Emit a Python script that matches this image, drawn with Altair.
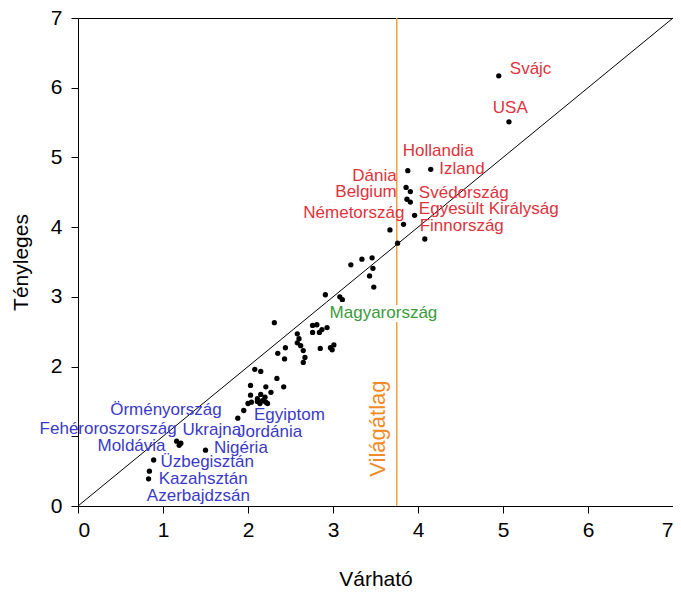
import altair as alt
import pandas as pd

# expected (x) and actual (y) values per country point
exp_vals = [4.95, 5.07, 4.15, 3.88, 3.86, 3.91, 3.87, 3.91, 3.96, 3.83, 3.67, 3.76, 4.08,
            3.21, 3.34, 3.46, 3.47, 3.43, 3.48, 2.91, 3.08, 3.11, 2.31, 2.76, 2.81, 2.87,
            2.93, 2.76, 2.84, 2.58, 2.60, 2.58, 2.62, 2.65, 2.67, 2.65, 2.85, 2.97, 3.01,
            2.99, 2.44, 2.35, 2.43, 2.08, 2.15, 2.34, 2.42, 2.03, 2.21, 2.27, 2.03, 2.15,
            2.20, 2.11, 2.04, 2.11, 2.17, 2.21, 2.00, 2.14, 2.23, 1.95, 1.88, 1.16, 1.21,
            1.19, 1.50, 0.89, 0.84, 0.83]
act_vals = [6.17, 5.51, 4.83, 4.81, 4.57, 4.51, 4.40, 4.36, 4.17, 4.04, 3.96, 3.77, 3.83,
            3.46, 3.54, 3.56, 3.41, 3.30, 3.14, 3.03, 3.00, 2.96, 2.63, 2.59, 2.60, 2.53,
            2.56, 2.49, 2.49, 2.47, 2.40, 2.34, 2.30, 2.23, 2.13, 2.06, 2.26, 2.27, 2.31,
            2.24, 2.27, 2.19, 2.11, 1.96, 1.93, 1.83, 1.71, 1.73, 1.71, 1.63, 1.59, 1.60,
            1.56, 1.54, 1.49, 1.50, 1.51, 1.49, 1.47, 1.47, 1.47, 1.37, 1.26, 0.93, 0.90,
            0.87, 0.80, 0.66, 0.50, 0.39]

# labels
lab_text = ["Svájc", "USA", "Hollandia", "Izland", "Svédország", "Egyesült Királyság",
            "Finnország", "Dánia", "Belgium", "Németország",
            "Magyarország",
            "Örményország", "Fehéroroszország", "Moldávia",
            "Ukrajna", "Jordánia", "Egyiptom", "Nigéria", "Üzbegisztán", "Kazahsztán",
            "Azerbajdzsán"]
lab_x = [5.08, 4.88, 3.82, 4.25, 4.01, 4.01, 4.02, 3.75, 3.75, 3.84,
         2.96,
         1.69, 1.16, 1.03,
         1.23, 1.87, 2.07, 1.60, 0.97, 0.95, 0.81]
lab_y = [6.27, 5.71, 5.09, 4.84, 4.49, 4.26, 4.01, 4.73, 4.50, 4.21,
         2.77,
         1.37, 1.10, 0.86,
         1.09, 1.06, 1.31, 0.83, 0.63, 0.39, 0.14]
lab_group = ["top"] * 10 + ["hu"] + ["low"] * 10
lab_align = ["left"] * 7 + ["right"] * 3 + ["left"] + ["right"] * 3 + ["left"] * 7

diag_x = [0, 7]
diag_y = [0, 7]
world_avg = 3.75

FONT = "Liberation Sans"

pts = pd.DataFrame({"x": exp_vals, "y": act_vals})
labs = pd.DataFrame({"t": lab_text, "x": lab_x, "y": lab_y, "g": lab_group, "a": lab_align})
diag = pd.DataFrame({"x": diag_x, "y": diag_y})
avg = pd.DataFrame({"x": [world_avg]})

xs = alt.Scale(domain=[0, 7], nice=False, zero=False)
ys = alt.Scale(domain=[0, 7], nice=False, zero=False)
common = dict(grid=False, tickSize=7, domainColor="black", tickColor="black",
              labelColor="black", titleColor="black", labelFont=FONT, titleFont=FONT,
              labelFontSize=21, titleFontSize=21, titleFontWeight="normal",
              values=list(range(8)), format="d")
xax = alt.Axis(title="Várható", labelPadding=6, titlePadding=28, **common)
yax = alt.Axis(title="Tényleges", labelPadding=9, titlePadding=19,
               labelExpr="datum.value == 1 ? '' : datum.label", **common)

base_x = alt.X("x:Q", scale=xs, axis=xax)
base_y = alt.Y("y:Q", scale=ys, axis=yax)

line = alt.Chart(diag).mark_line(color="black", strokeWidth=1).encode(x=base_x, y=base_y)
rule = alt.Chart(avg).mark_rule(color="#f0a040", strokeWidth=1.5).encode(x="x:Q")
avg_lab = alt.Chart(pd.DataFrame({"x": [3.53], "y": [1.11], "t": ["Világátlag"]})).mark_text(
    angle=270, color="#f08c28", fontSize=22, font=FONT).encode(x="x:Q", y="y:Q", text="t:N")
points = alt.Chart(pts).mark_circle(color="black", opacity=1, size=28).encode(x="x:Q", y="y:Q")

# white halo behind the Hungary label (label box hides the average line)
hu_halo = alt.Chart(labs).transform_filter("datum.g == 'hu'").mark_text(
    align="left", baseline="middle", fontSize=17, font=FONT, color="white",
    stroke="white", strokeWidth=8).encode(x="x:Q", y="y:Q", text="t:N")

color_scale = alt.Scale(domain=["top", "hu", "low"], range=["#e0323c", "#3c9a3c", "#3a3ac8"])
left_labs = alt.Chart(labs).transform_filter("datum.a == 'left'").mark_text(
    align="left", baseline="middle", fontSize=17, font=FONT).encode(
    x="x:Q", y="y:Q", text="t:N", color=alt.Color("g:N", scale=color_scale, legend=None))
right_labs = alt.Chart(labs).transform_filter("datum.a == 'right'").mark_text(
    align="right", baseline="middle", fontSize=17, font=FONT).encode(
    x="x:Q", y="y:Q", text="t:N", color=alt.Color("g:N", scale=color_scale, legend=None))

chart = alt.layer(line, rule, avg_lab, points, hu_halo, left_labs, right_labs).properties(
    width=595, height=488,
    autosize=alt.AutoSizeParams(type="none"),
    padding={"left": 70, "top": 10, "right": 0, "bottom": 82},
).configure_view(stroke="black", strokeWidth=1)

chart.save("out.html", embed_options={"renderer": "svg", "actions": False})
